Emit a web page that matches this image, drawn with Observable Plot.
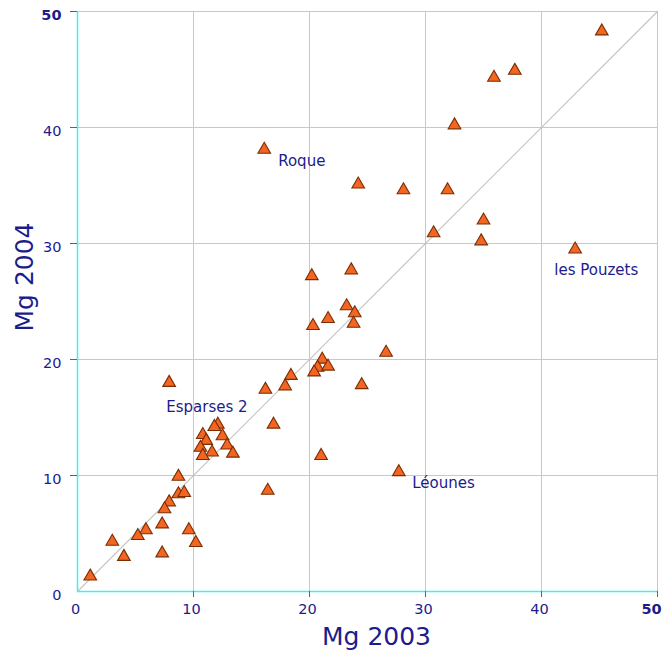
<!DOCTYPE html>
<html>
<head>
<meta charset="utf-8">
<script src="https://cdn.jsdelivr.net/npm/d3@7"></script>
<script src="https://cdn.jsdelivr.net/npm/@observablehq/plot@0.6"></script>
<style>
  html, body { margin: 0; padding: 0; background: #ffffff; }
</style>
</head>
<body>
<div id="chart"></div>
<script>
// Mg values, 2003 (x) and 2004 (y)
const mg2003 = [45.2, 37.7, 35.9, 32.5, 16.1, 24.2, 28.1, 31.9, 35.0, 30.7, 34.8, 42.9,
  20.2, 23.6, 23.2, 23.9, 21.6, 23.8, 20.3, 26.6, 21.1, 20.7, 21.6, 20.4, 18.4, 16.2,
  17.9, 24.5, 7.9, 16.9, 12.1, 11.8, 10.8, 11.1, 12.5, 10.6, 12.9, 11.6, 10.8, 13.4,
  8.7, 21.0, 27.7, 16.4, 8.7, 9.2, 7.9, 7.5, 7.3, 5.9, 5.2, 9.6, 3.0, 10.2, 4.0, 7.3, 1.1];
const mg2004 = [48.3, 44.9, 44.3, 40.2, 38.1, 35.1, 34.6, 34.6, 32.0, 30.9, 30.2, 29.5,
  27.2, 27.7, 24.6, 24.0, 23.5, 23.1, 22.9, 20.6, 20.0, 19.3, 19.4, 18.9, 18.6, 17.4,
  17.7, 17.8, 18.0, 14.4, 14.4, 14.2, 13.5, 13.0, 13.4, 12.4, 12.6, 12.0, 11.7, 11.9,
  9.9, 11.7, 10.3, 8.7, 8.4, 8.5, 7.7, 7.1, 5.8, 5.3, 4.8, 5.3, 4.3, 4.2, 3.0, 3.3, 1.3];

// Site labels (text) and their anchor in data units
const labelNames = ["Roque", "les Pouzets", "Léounes", "Esparses 2"];
const labelX = [17.3, 41.1, 28.85, 7.65];
const labelY = [37.1, 27.7, 9.3, 15.9];

const tickValues = [0, 10, 20, 30, 40];
const endTick = [50];
const domainEnds = [0, 50];
const xTitle = "Mg 2003";
const yTitle = "Mg 2004";

const points = mg2003.map((x, i) => ({x, y: mg2004[i]}));
const labels = labelNames.map((name, i) => ({name, x: labelX[i], y: labelY[i]}));

const navy = "#1c1c8c";
const gridColor = "#c8c8c8";
const font = "DejaVu Sans";
const innerTicks = [...tickValues, ...endTick].filter(d => d > 0);

const chart = Plot.plot({
  width: 662,
  height: 655,
  marginLeft: 77,
  marginRight: 5,
  marginTop: 11,
  marginBottom: 64,
  style: {fontFamily: font, background: "#ffffff"},
  x: {domain: domainEnds, label: null},
  y: {domain: domainEnds, label: null},
  marks: [
    Plot.gridX(innerTicks, {stroke: gridColor, strokeOpacity: 1}),
    Plot.gridY(innerTicks, {stroke: gridColor, strokeOpacity: 1}),
    Plot.line(domainEnds, {x: d => d, y: d => d, stroke: "#c4c4c4", strokeWidth: 1.2}),
    Plot.ruleX([0], {stroke: "#40f0f0", strokeWidth: 1.5}),
    Plot.ruleY([0], {stroke: "#40f0f0", strokeWidth: 1.5}),
    // tick marks
    Plot.axisX(innerTicks, {tickSize: 6, stroke: "#ff2020", tickFormat: () => ""}),
    Plot.axisY(innerTicks, {tickSize: 7, stroke: "#ff2020", tickFormat: () => ""}),
    // tick labels
    Plot.axisX(tickValues, {tickSize: 0, tickPadding: 12, dx: -2, fontSize: 14.5, fill: navy, tickFormat: d => String(d)}),
    Plot.axisX(endTick, {tickSize: 0, tickPadding: 12, dx: -6, fontSize: 14.5, fontWeight: "bold", fill: navy, tickFormat: d => String(d)}),
    Plot.axisY(tickValues, {tickSize: 0, tickPadding: 16, dy: 4, fontSize: 14.5, fill: navy, tickFormat: d => String(d)}),
    Plot.axisY(endTick, {tickSize: 0, tickPadding: 16, dy: 4, fontSize: 14.5, fontWeight: "bold", fill: navy, tickFormat: d => String(d)}),
    // points
    Plot.dot(points, {x: "x", y: "y", symbol: "triangle", r: 4.7, fill: "#f26522", stroke: "#7a2e00", strokeWidth: 1.1, fillOpacity: 1}),
    // site labels
    Plot.text(labels, {x: "x", y: "y", text: "name", textAnchor: "start", fontSize: 15, fill: navy}),
    // axis titles
    Plot.text([xTitle], {frameAnchor: "bottom", text: d => d, dx: 9, dy: 45, lineAnchor: "middle", fontSize: 25, fill: navy}),
    Plot.text([yTitle], {frameAnchor: "left", text: d => d, rotate: -90, dx: -53, dy: 30, lineAnchor: "middle", fontSize: 25, fill: navy})
  ]
});
document.getElementById("chart").appendChild(chart);
</script>
</body>
</html>
